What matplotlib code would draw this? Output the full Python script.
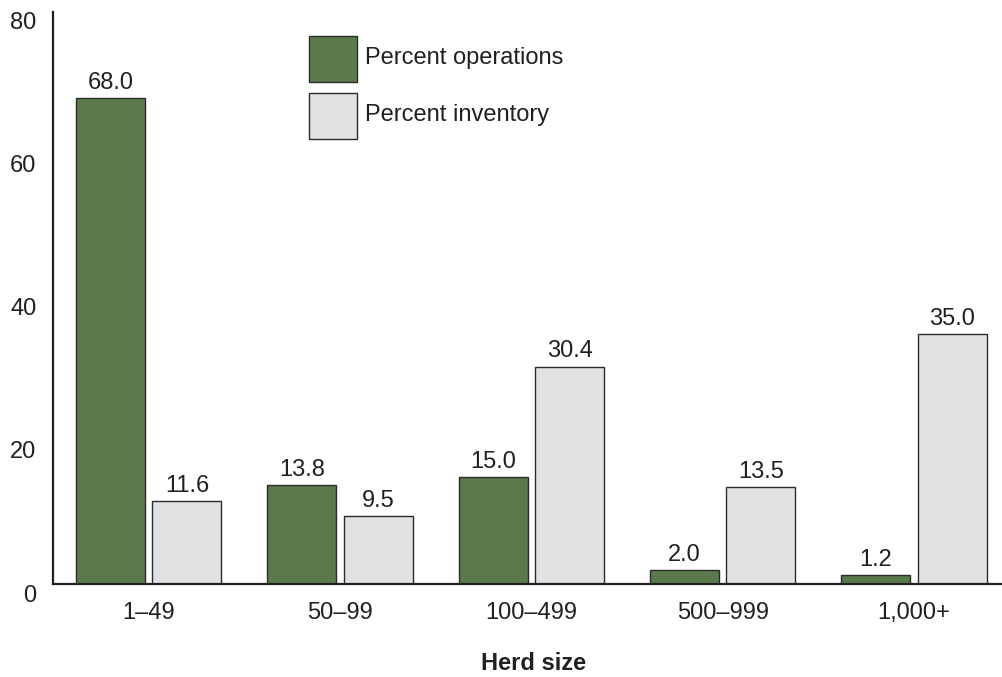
import matplotlib
matplotlib.use("Agg")
import matplotlib.pyplot as plt
import matplotlib.transforms as mtransforms
from matplotlib.patches import Rectangle
import numpy as np

categories = ["1\u201349", "50\u201399", "100\u2013499", "500\u2013999", "1,000+"]
pct_operations = [68.0, 13.8, 15.0, 2.0, 1.2]
pct_inventory = [11.6, 9.5, 30.4, 13.5, 35.0]
yticks = [0, 20, 40, 60, 80]
series_names = ["Percent operations", "Percent inventory"]

green = "#5a7a4c"
gray = "#e1e2e4"
edge = "#2b2b2b"
FS = 17

plt.rcParams['font.family'] = ['Liberation Sans', 'DejaVu Sans']

W, H = 1002, 677
fig = plt.figure(figsize=(W / 100, H / 100), dpi=100)
ax = fig.add_axes([53 / W, (H - 584) / H, (W - 53) / W, (584 - 12) / H])

x = np.arange(len(categories))
bw = 0.36
off = 0.2
b1 = ax.bar(x - off, pct_operations, bw, color=green, edgecolor=edge, linewidth=1.0, zorder=2)
b2 = ax.bar(x + off, pct_inventory, bw, color=gray, edgecolor=edge, linewidth=1.0, zorder=2)

for bars, vals in ((b1, pct_operations), (b2, pct_inventory)):
    for r, v in zip(bars, vals):
        ax.annotate(f"{v:.1f}", (r.get_x() + r.get_width() / 2, v), xytext=(0, 3),
                    textcoords="offset points", ha="center", va="bottom", fontsize=FS, color="#231f20")

ax.set_xlim(-0.5, 4.46)
ax.set_ylim(0, 80)
ax.set_xticks(x)
ax.set_xticklabels(categories, fontsize=FS, color="#231f20")
ax.set_yticks(yticks)
ax.set_yticklabels([str(t) for t in yticks], fontsize=FS, color="#231f20")
ax.tick_params(axis="x", length=0, pad=13)
ax.tick_params(axis="y", length=0, pad=12)
shift = mtransforms.ScaledTranslation(0, -9 / 100, fig.dpi_scale_trans)
for lab in ax.get_yticklabels():
    lab.set_transform(lab.get_transform() + shift)

for s in ("top", "right"):
    ax.spines[s].set_visible(False)
for s in ("left", "bottom"):
    ax.spines[s].set_linewidth(1.6)
    ax.spines[s].set_color("#231f20")

fig.text(534 / W, 1 - 663 / H, "Herd size", ha="center", va="center", fontsize=FS,
         fontweight="bold", color="#231f20")

# legend
for i, (name, col) in enumerate(zip(series_names, [green, gray])):
    top = 36 + i * 57
    rect = Rectangle((309 / W, 1 - (top + 46) / H), 48 / W, 46 / H, transform=fig.transFigure,
                     facecolor=col, edgecolor=edge, linewidth=1.0)
    fig.patches.append(rect)
    fig.text(365 / W, 1 - (top + 22) / H, name, ha="left", va="center", fontsize=FS, color="#231f20")

fig.savefig("out.png", dpi=100)
